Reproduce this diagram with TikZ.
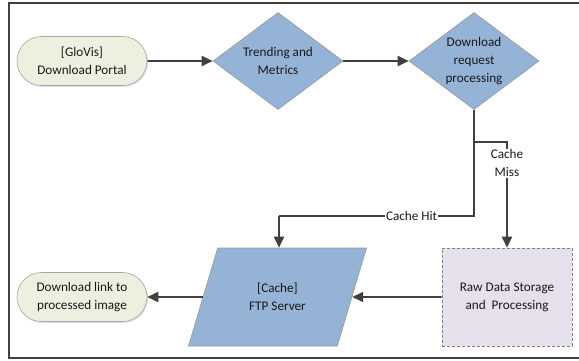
\documentclass[tikz,border=0pt]{standalone}
\usepackage{fontspec}
\setmainfont{Carlito}
\usetikzlibrary{arrows.meta,calc,positioning,shapes.geometric,shapes.misc,shadows}

\definecolor{termfill}{RGB}{235,241,222}
\definecolor{stepblue}{RGB}{149,179,215}
\definecolor{rawfill}{RGB}{230,224,236}
\definecolor{linegray}{RGB}{64,64,64}
\definecolor{textgray}{RGB}{25,25,25}

\tikzset{
  every node/.style={font=\fontsize{13.2}{18}\selectfont,text=textgray,align=center},
  terminal/.style={rounded rectangle,draw=gray!70,fill=termfill,line width=0.6pt,
    minimum width=130pt,minimum height=49pt,inner sep=0pt,
    drop shadow={shadow xshift=1pt,shadow yshift=-1.5pt,opacity=0.25}},
  decision/.style={diamond,draw=gray!80,fill=stepblue,line width=0.6pt,
    aspect=1.34,minimum width=130pt,minimum height=97pt,inner sep=0pt},
  iobox/.style={trapezium,trapezium left angle=63.4,trapezium right angle=116.6,
    trapezium stretches=true,draw=gray!80,fill=stepblue,line width=0.6pt,
    minimum width=179pt,minimum height=98pt,inner sep=0pt},
  process/.style={rectangle,draw=gray,dash pattern=on 3pt off 2pt,fill=rawfill,
    line width=0.6pt,minimum width=130pt,minimum height=98pt,inner sep=0pt},
  flow/.style={draw=linegray,line width=1.9pt,-{Triangle[length=11pt,width=10pt]}},
  link/.style={draw=linegray,line width=1.9pt},
  lab/.style={fill=white,inner sep=1pt}
}

\begin{document}
\begin{tikzpicture}[x=1pt,y=-1pt]
  \useasboundingbox (0,0) rectangle (579,360);
  \draw[linegray,line width=1.3pt] (579,3) -- (9,3) -- (9,358) -- (579,358);

  \node[terminal] (portal) at (82,61) {[GloVis]\\Download Portal};
  \node[decision] (trend) at (278,61) {Trending and\\Metrics};
  \node[decision] (dlreq) at (474,61) {Download\\request\\processing};
  \node[iobox] (ftp) at (277.5,297) {[Cache]\\FTP Server};
  \node[process] (raw) at (507,297) {Raw Data Storage\\and\ \ Processing};
  \node[terminal] (dllink) at (82,297) {Download link to\\processed image};

  \coordinate (hit) at (279,216);
  \coordinate (miss) at (507,142);

  \draw[flow] (portal) -- (trend);
  \draw[flow] (trend) -- (dlreq);
  \draw[link] (dlreq.south) |- node[lab,pos=0.66] {Cache Hit} (hit);
  \draw[flow] (hit) -- (hit |- ftp.north);
  \draw[flow] (dlreq.south |- miss) -| node[lab,pos=0.6] {Cache\\Miss} (raw.north);
  \draw[flow] (raw) -- (ftp);
  \draw[flow] (ftp) -- (dllink);
\end{tikzpicture}
\end{document}
